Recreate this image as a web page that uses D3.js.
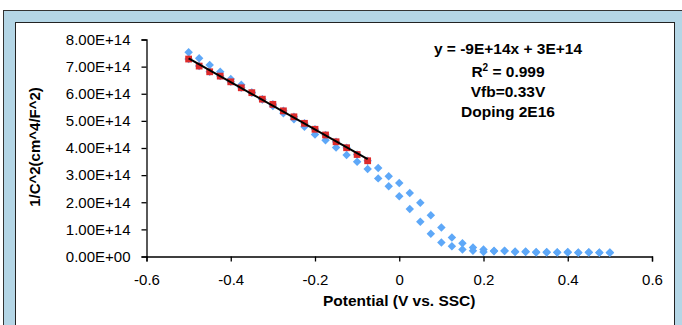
<!DOCTYPE html>
<html lang="en">
<head>
<meta charset="UTF-8"/>
<title>Mott-Schottky</title>
<script src="https://d3js.org/d3.v7.min.js"></script>
<style>
  body { margin: 0; background: white; }
  text { font-family: "Liberation Sans", Arial, sans-serif; }
</style>
</head>
<body>
<script>
// potential (V vs. SSC)
var potential = [-0.5, -0.475, -0.45, -0.425, -0.4, -0.375, -0.35, -0.325, -0.3, -0.275,
                 -0.25, -0.225, -0.2, -0.175, -0.15, -0.125, -0.1, -0.075, -0.05, -0.025,
                 0, 0.025, 0.05, 0.075, 0.1, 0.125, 0.15, 0.175, 0.2, 0.225,
                 0.25, 0.275, 0.3, 0.325, 0.35, 0.375, 0.4, 0.425, 0.45, 0.475, 0.5];
// 1/C^2, units of 1E14
var scanA = [7.28, 7.02, 6.81, 6.65, 6.44, 6.22, 6.04, 5.80, 5.61, 5.37,
             5.15, 4.91, 4.69, 4.48, 4.23, 4.01, 3.76, 3.53, 3.26, 2.96,
             2.71, 2.34, 1.98, 1.52, 1.07, 0.70, 0.49, 0.33, 0.26, 0.21,
             0.21, 0.18, 0.18, 0.17, 0.17, 0.16, 0.17, 0.15, 0.16, 0.15, 0.15];
var scanB = [7.53, 7.31, 7.06, 6.81, 6.54, 6.33, 6.05, 5.79, 5.55, 5.28,
             5.06, 4.78, 4.50, 4.29, 4.02, 3.74, 3.49, 3.23, 2.88, 2.59,
             2.22, 1.75, 1.28, 0.84, 0.52, 0.38, 0.26, 0.21, 0.17, 0.19,
             0.20, 0.17, 0.17, 0.15, 0.15, 0.15, 0.15, 0.14, 0.15, 0.14, 0.14];
// points used for the linear fit
var fitX = potential.slice(0, 18);
var fitY = [7.28, 7.02, 6.81, 6.65, 6.44, 6.22, 6.04, 5.80, 5.61, 5.37,
            5.15, 4.91, 4.69, 4.48, 4.23, 4.01, 3.76, 3.53];

var xTicks = [-0.6, -0.4, -0.2, 0, 0.2, 0.4, 0.6];
var xTickLabels = ["-0.6", "-0.4", "-0.2", "0", "0.2", "0.4", "0.6"];
var yTicks = [0, 1, 2, 3, 4, 5, 6, 7, 8];
var yTickLabels = ["0.00E+00", "1.00E+14", "2.00E+14", "3.00E+14", "4.00E+14",
                   "5.00E+14", "6.00E+14", "7.00E+14", "8.00E+14"];
var notes = ["y = -9E+14x + 3E+14", "R2 = 0.999", "Vfb=0.33V", "Doping 2E16"];

var w = 682, h = 325;
var svg = d3.select("body").append("svg")
    .attr("width", w).attr("height", h);

// frame
svg.append("rect").attr("x", 3.5).attr("y", 10.5).attr("width", 700).attr("height", 400)
    .attr("fill", "rgb(180,214,230)").attr("stroke", "#333");
svg.append("rect").attr("x", 15.5).attr("y", 22.5).attr("width", 659).attr("height", 400)
    .attr("fill", "white").attr("stroke", "#222");

var x = d3.scaleLinear().domain([-0.6, 0.6]).range([146.5, 652]);
var y = d3.scaleLinear().domain([0, 8]).range([256.5, 39.5]);

var xAxis = d3.axisBottom(x).tickValues(xTicks).tickSize(5).tickPadding(13)
    .tickFormat(function(d, i){ return xTickLabels[i]; });
var yAxis = d3.axisLeft(y).tickValues(yTicks).tickSize(5).tickPadding(11)
    .tickFormat(function(d, i){ return yTickLabels[i]; });

var gx = svg.append("g").attr("transform", "translate(0," + y(0) + ")").call(xAxis);
var gy = svg.append("g").attr("transform", "translate(" + x(-0.6) + ",0)").call(yAxis);
[gx, gy].forEach(function(g){
    g.select(".domain").attr("stroke", "#000").attr("stroke-width", 1.3);
    g.selectAll(".tick line").attr("stroke", "#000").attr("stroke-width", 1.3);
    g.selectAll(".tick text").attr("font-size", 15).attr("fill", "#000")
        .style("font-family", "'Liberation Sans', Arial, sans-serif");
});

// axis titles
svg.append("text").attr("x", x(0)).attr("y", 306).attr("text-anchor", "middle")
    .attr("font-size", 15.5).attr("font-weight", "bold").text("Potential (V vs. SSC)");
svg.append("text").attr("transform", "translate(40," + 147 + ") rotate(-90)")
    .attr("text-anchor", "middle").attr("font-size", 15).attr("font-weight", "bold")
    .text("1/C^2(cm^4/F^2)");

// diamond marker (square rotated 45deg)
var diamond = {
    draw: function(ctx, size){
        var r = Math.sqrt(size / 2);
        ctx.moveTo(0, -r); ctx.lineTo(r, 0); ctx.lineTo(0, r); ctx.lineTo(-r, 0); ctx.closePath();
    }
};
var blue = "#5ea8f8";

[scanA, scanB].forEach(function(series){
    svg.append("g").selectAll("path")
        .data(potential.map(function(p, i){ return [p, series[i]]; }))
        .enter().append("path")
        .attr("d", d3.symbol().type(diamond).size(36))
        .attr("transform", function(d){ return "translate(" + x(d[0]) + "," + y(d[1]) + ")"; })
        .attr("fill", blue);
});

svg.append("g").selectAll("path")
    .data(fitX.map(function(p, i){ return [p, fitY[i]]; }))
    .enter().append("path")
    .attr("d", d3.symbol().type(d3.symbolSquare).size(46))
    .attr("transform", function(d){ return "translate(" + x(d[0]) + "," + y(d[1]) + ")"; })
    .attr("fill", "#dd2b2b");

// least squares trendline through the fit points
var mx = d3.mean(fitX), my = d3.mean(fitY);
var sxy = d3.sum(fitX, function(v, i){ return (v - mx) * (fitY[i] - my); });
var sxx = d3.sum(fitX, function(v){ return (v - mx) * (v - mx); });
var slope = sxy / sxx, icpt = my - slope * mx;
var ends = [d3.min(fitX), d3.max(fitX)];
svg.append("path")
    .datum(ends.map(function(v){ return [v, slope * v + icpt]; }))
    .attr("d", d3.line().x(function(d){ return x(d[0]); }).y(function(d){ return y(d[1]); }))
    .attr("stroke", "#000").attr("stroke-width", 2).attr("fill", "none");

// annotation
var ann = svg.append("g").attr("font-size", 15.5).attr("font-weight", "bold")
    .attr("text-anchor", "middle");
ann.append("text").attr("x", 508).attr("y", 54).text(notes[0]);
var r2 = ann.append("text").attr("x", 508).attr("y", 77);
r2.append("tspan").text("R");
r2.append("tspan").attr("font-size", 10).attr("dy", -6).text("2");
r2.append("tspan").attr("dy", 6).text(" = 0.999");
ann.append("text").attr("x", 508).attr("y", 97).text(notes[2]);
ann.append("text").attr("x", 508).attr("y", 117).text(notes[3]);
</script>
</body>
</html>
